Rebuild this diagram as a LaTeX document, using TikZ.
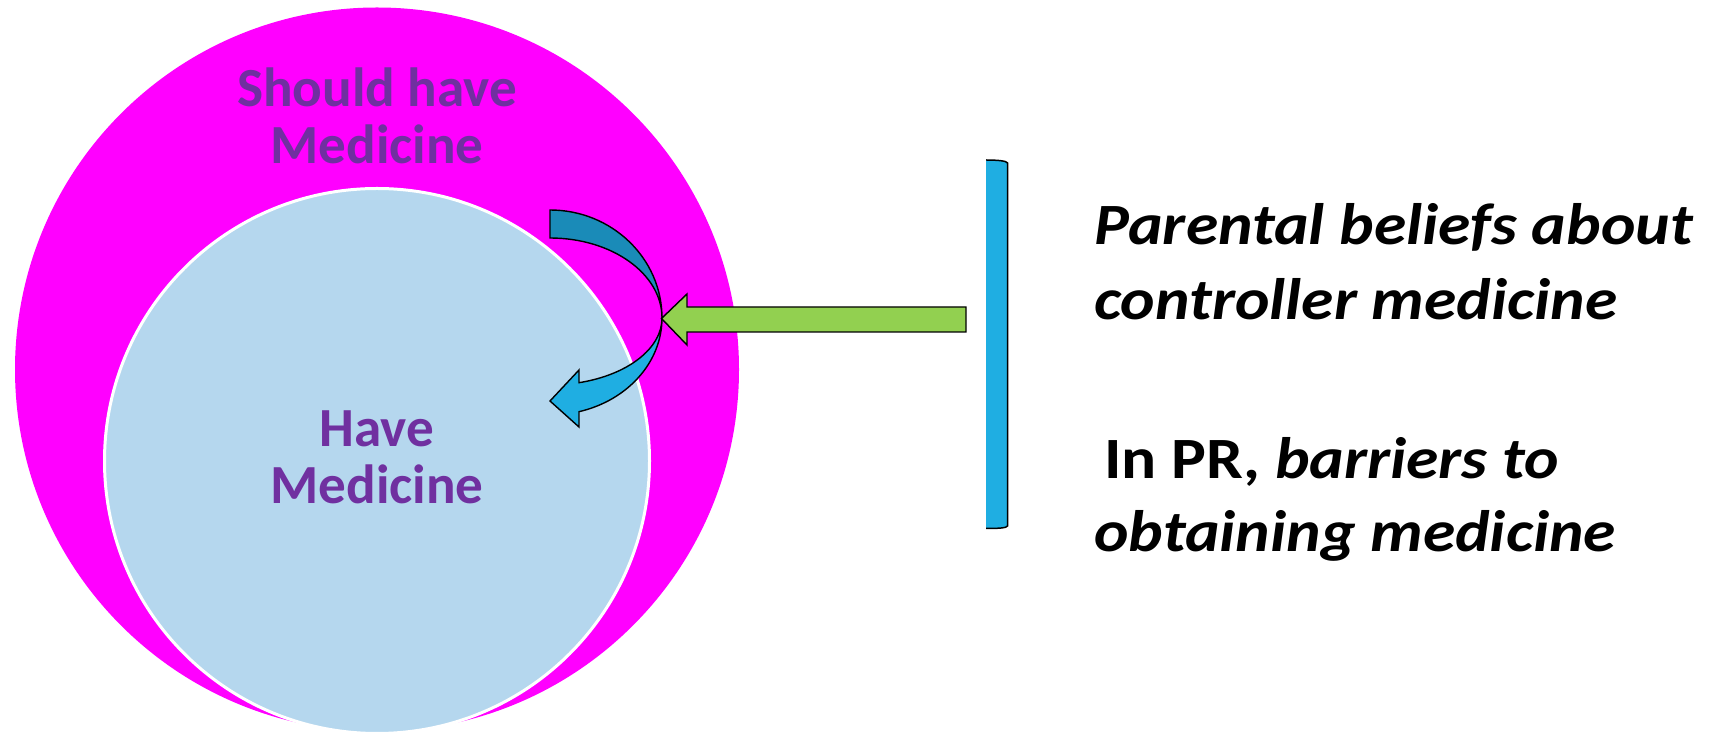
\documentclass[tikz,border=0pt]{standalone}
\usepackage{fontspec}
\setmainfont{Carlito}
\newfontfamily\rfont[FakeStretch=1.12]{Carlito}
\definecolor{magentaA}{HTML}{FF00FF}
\definecolor{innerblue}{HTML}{B5D7EE}
\definecolor{txtpurple}{HTML}{7030A0}
\definecolor{darkcurve}{HTML}{1A8BB8}
\definecolor{lightcurve}{HTML}{1FAEE2}
\definecolor{arrowgreen}{HTML}{92D050}
\begin{document}
\begin{tikzpicture}[x=0.02cm,y=-0.02cm,
  lefttext/.style={text=txtpurple,font=\fontsize{31.4pt}{32pt}\selectfont\bfseries,anchor=base,inner sep=0pt},
  righttext/.style={text=black,font=\rfont\fontsize{33.3pt}{42pt}\selectfont\bfseries,anchor=base west,inner sep=0pt},
  shapeline/.style={draw=black,line width=0.8pt,line join=miter}]
\useasboundingbox (0,0) rectangle (1721,732);
\begin{scope}
\clip (0,0) rectangle (1721,732);
\fill[magentaA] (377,369.5) circle[radius=362];
\filldraw[fill=innerblue,draw=white,line width=0.06cm] (377,461) circle[radius=272.5];
\end{scope}
% labels in circles
\node[lefttext] (should) at (377,106.7) {Should have};
\node[lefttext] (shouldmed) at (377,163.3) {Medicine};
\node[lefttext] (have) at (377,446.7) {Have};
\node[lefttext] (havemed) at (377,503.3) {Medicine};
% curved arrow: back (dark) part
\filldraw[fill=darkcurve,shapeline] (550,210) arc[start angle=-90,end angle=0,x radius=112,y radius=108]
  arc[start angle=0,end angle=-90,x radius=112,y radius=80] -- cycle;
% curved arrow: front (light) part with head
\filldraw[fill=lightcurve,shapeline] (662,318) arc[start angle=0,end angle=75,x radius=112,y radius=97]
  -- (579,427) -- (550,401) -- (579,370) -- (579,382.7)
  arc[start angle=75,end angle=0,x radius=112,y radius=67] -- cycle;
% green arrow
\filldraw[fill=arrowgreen,shapeline] (966,307) -- (687,307) -- (687,294) -- (661.5,318.5) -- (687,345) -- (687,332) -- (966,332) -- cycle;
% bracket bar
\fill[lightcurve] (986,160) .. controls (998,160) and (1007,161) .. (1007.5,163) -- (1007.5,526) .. controls (1007,528) and (998,528.5) .. (986,528.5) -- cycle;
\draw[line width=0.85pt] (986,160) .. controls (998,160) and (1007,161) .. (1007.5,163) -- (1007.5,526) .. controls (1007,528) and (998,528.5) .. (986,528.5);
% right texts
\node[righttext] (l1) at (1094,245) {\itshape Parental beliefs about};
\node[righttext] (l2) at (1094,320) {\itshape controller medicine};
\node[righttext] (l3) at (1104,478.5) {In PR, \itshape barriers to};
\node[righttext] (l4) at (1094,552) {\itshape obtaining medicine};
\end{tikzpicture}
\end{document}
